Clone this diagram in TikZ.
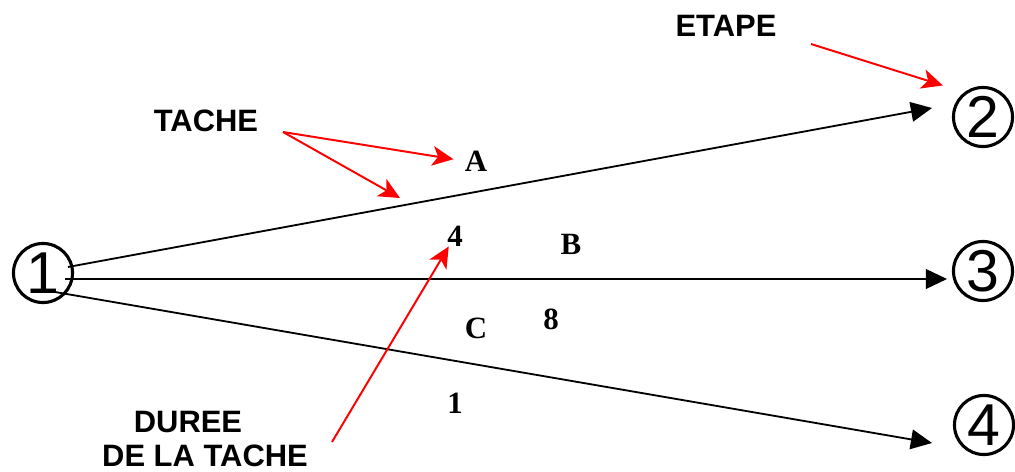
\documentclass[tikz,border=0pt]{standalone}
\usepackage{fontspec}
\usepackage{tikz}
\usetikzlibrary{arrows.meta, positioning, calc}
\setmainfont{Liberation Serif}
\setsansfont{Liberation Sans}
\definecolor{cRed}{RGB}{255,0,0}
\tikzset{
	etape/.style={circle, draw=black, line width=2.2pt, minimum size=42pt, inner sep=0pt, font=\sffamily\fontsize{42}{42}\selectfont},
	flowarrow/.style={-{Triangle[length=15pt, width=14pt]}, line width=1.3pt},
	callout/.style={-{Stealth[length=15pt, width=14pt, inset=4pt]}, line width=1.4pt, draw=cRed},
	note/.style={font=\sffamily\bfseries\fontsize{22}{26}\selectfont, inner sep=0pt},
	tlabel/.style={font=\bfseries\fontsize{22}{22}\selectfont, inner sep=0pt},
}

\begin{document}
\begin{tikzpicture}[x=0.025cm, y=-0.025cm]
	\useasboundingbox (0,0) rectangle (1015,472);
	% etapes
	\node[etape] (n1) at (43,273) {1};
	\node[etape] (n2) at (983,117) {2};
	\node[etape] (n3) at (983,271) {3};
	\node[etape] (n4) at (984,425) {4};
	% taches
	\draw[flowarrow] ([shift={(25,-6)}]n1.center) -- ([shift={(-51,-9)}]n2.center);
	\draw[flowarrow] ([shift={(22,6)}]n1.center) -- ([shift={(-36,8)}]n3.center);
	\draw[flowarrow] ([shift={(12,19)}]n1.center) -- ([shift={(-52,18)}]n4.center);
	% noms et durees
	\node[tlabel] (lblA) at (476,161) {A};
	\node[tlabel] (lbl4) at (455,236) {4};
	\node[tlabel] (lblB) at (571,244) {B};
	\node[tlabel] (lbl8) at (551,319) {8};
	\node[tlabel] (lblC) at (476,328) {C};
	\node[tlabel] (lbl1) at (455,403) {1};
	% legendes
	\node[note] (tache) at (206,121) {TACHE};
	\node[note] (etapeTxt) at (726,26) {ETAPE};
	\node[note] (duree) at (188,422) {DUREE};
	\node[note] (dureeB) at (205,456) {DE LA TACHE};
	\coordinate (tacheOut) at (283,132);
	\coordinate (ptLine) at (400,198);
	\coordinate (etapeOut) at (811,44);
	\coordinate (dureeOut) at (332,442);
	\draw[callout, shorten >=8pt] (tacheOut) -- (lblA.west);
	\draw[callout] (tacheOut) -- (ptLine);
	\draw[callout, shorten >=16pt] (etapeOut) -- (n2.127);
	\draw[callout] (dureeOut) -- (lbl4);
\end{tikzpicture}
\end{document}
